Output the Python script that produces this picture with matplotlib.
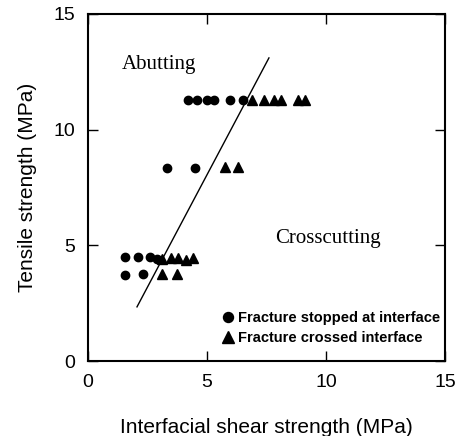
import matplotlib
matplotlib.use('Agg')
import matplotlib.pyplot as plt

# Fracture stopped at interface (circles)
stopped_x = [4.2, 4.6, 5.0, 5.3, 5.95, 6.5,
             3.3, 4.5,
             1.55, 2.1, 2.6, 2.9,
             1.55, 2.3]
stopped_y = [11.3, 11.3, 11.3, 11.3, 11.3, 11.3,
             8.35, 8.35,
             4.5, 4.5, 4.5, 4.4,
             3.7, 3.75]

# Fracture crossed interface (triangles)
crossed_x = [6.9, 7.4, 7.8, 8.1, 8.8, 9.1,
             5.75, 6.3,
             3.1, 3.5, 3.8, 4.1, 4.4,
             3.1, 3.75]
crossed_y = [11.3, 11.3, 11.3, 11.3, 11.3, 11.3,
             8.4, 8.4,
             4.4, 4.45, 4.45, 4.35, 4.45,
             3.75, 3.75]

# Abutting / crosscutting boundary line
boundary_x = [2.06, 7.6]
boundary_y = [2.34, 13.1]

plt.rcParams['font.family'] = ['Liberation Sans', 'DejaVu Sans']

fig = plt.figure(figsize=(4.58, 4.36), dpi=100)
ax = fig.add_axes([0.192, 0.172, 0.78, 0.796])

ax.plot(boundary_x, boundary_y, color='black', lw=1.0)
ax.plot(stopped_x, stopped_y, 'o', color='black', ms=6, ls='none',
        label='Fracture stopped at interface')
ax.plot(crossed_x, crossed_y, '^', color='black', ms=7, ls='none',
        label='Fracture crossed interface')

ax.text(1.43, 12.8, 'Abutting', family='Liberation Serif', fontsize=15,
        va='center')
ax.text(7.85, 5.3, 'Crosscutting', family='Liberation Serif', fontsize=15,
        va='center')

ax.set_xlim(0, 15)
ax.set_ylim(0, 15)
ax.set_xticks([0, 5, 10, 15])
ax.set_yticks([0, 5, 10, 15])
ax.tick_params(direction='in', length=7, width=1, labelsize=14, pad=9,
               top=True, right=True)
for s in ax.spines.values():
    s.set_linewidth(1.5)

ax.set_xlabel('Interfacial shear strength (MPa)', fontsize=15, labelpad=20)
ax.set_ylabel('Tensile strength (MPa)', fontsize=15, labelpad=12)

leg = ax.legend(loc='lower right', bbox_to_anchor=(0.986, 0.045),
                frameon=False, borderaxespad=0, borderpad=0,
                handletextpad=0.3, handlelength=0.8, labelspacing=0.45,
                markerscale=1.2,
                prop={'family': 'Liberation Sans', 'weight': 'bold',
                      'size': 10.5})

fig.savefig('out.png', dpi=100)
